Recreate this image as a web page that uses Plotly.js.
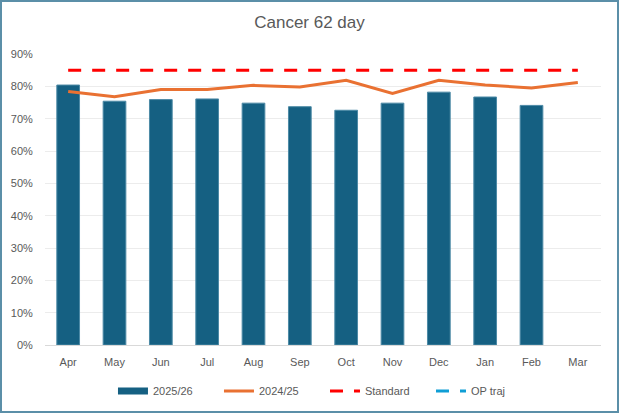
<!DOCTYPE html>
<html>
<head>
<meta charset="utf-8">
<script src="https://cdn.plot.ly/plotly-3.0.1.min.js"></script>
<style>
  html, body { margin: 0; padding: 0; background: #fff; }
  #chart { position: absolute; left: 0; top: 0; width: 619px; height: 413px; }
  #frame { position: absolute; left: 0; top: 0; width: 619px; height: 413px; box-sizing: border-box; border: 2px solid #5b8fa8; pointer-events: none; }
</style>
</head>
<body>
<div id="chart"></div>
<div id="frame"></div>
<script>
const months = ["Apr","May","Jun","Jul","Aug","Sep","Oct","Nov","Dec","Jan","Feb","Mar"];
const fy2526 = [0.804, 0.754, 0.759, 0.761, 0.748, 0.737, 0.726, 0.748, 0.782, 0.767, 0.741, null];
const fy2425 = [0.784, 0.768, 0.790, 0.790, 0.803, 0.798, 0.819, 0.778, 0.819, 0.804, 0.795, 0.812];
const standard = [0.85, 0.85, 0.85, 0.85, 0.85, 0.85, 0.85, 0.85, 0.85, 0.85, 0.85, 0.85];
const opTraj = [null, null, null, null, null, null, null, null, null, null, null, null];
const yTicks = [0, 0.1, 0.2, 0.3, 0.4, 0.5, 0.6, 0.7, 0.8, 0.9];

const font = "Liberation Sans, Arial, sans-serif";
const barColor = "#156082";
const traces = [
  { type: "bar", name: "2025/26", x: months, y: fy2526, showlegend: false,
    marker: { color: barColor, line: { color: "#4d8aa6", width: 1 } } },
  // legend entry for the bars, drawn as a wide flat block like the original
  { type: "scatter", mode: "lines", name: "2025/26", x: months, y: opTraj.slice(),
    line: { color: barColor, width: 7 } },
  { type: "scatter", mode: "lines", name: "2024/25", x: months, y: fy2425,
    line: { color: "#e97132", width: 3 } },
  { type: "scatter", mode: "lines", name: "Standard", x: months, y: standard,
    line: { color: "#ff0000", width: 3, dash: "13px,11px" } },
  { type: "scatter", mode: "lines", name: "OP traj", x: months, y: opTraj,
    line: { color: "#0f9ed5", width: 3, dash: "13px,11px" } }
];

const layout = {
  width: 619, height: 413,
  margin: { l: 45, r: 18, t: 54, b: 68 },
  paper_bgcolor: "rgba(0,0,0,0)", plot_bgcolor: "#fff",
  font: { family: font, color: "#595959", size: 11 },
  title: { text: "Cancer 62 day", font: { family: font, size: 17, color: "#595959" },
           x: 0.5, xanchor: "center", y: 0.947, yref: "container", yanchor: "middle" },
  bargap: 0.51,
  xaxis: { type: "category", showgrid: false, showline: true, linecolor: "#d9d9d9", linewidth: 1,
           ticks: "outside", ticklen: 7, tickcolor: "rgba(0,0,0,0)",
           tickfont: { size: 11, color: "#595959" }, fixedrange: true, automargin: false },
  yaxis: { range: [0, 0.9], tickvals: yTicks, tickformat: ".0%", showgrid: true,
           gridcolor: "#ececec", gridwidth: 1, zeroline: false, showline: false,
           ticks: "outside", ticklen: 9, tickcolor: "rgba(0,0,0,0)",
           tickfont: { size: 11, color: "#595959" }, fixedrange: true, automargin: false },
  showlegend: true,
  legend: { orientation: "h", x: 0.525, xanchor: "center", xref: "container",
            y: 0.053, yanchor: "middle", yref: "container",
            entrywidth: 61, entrywidthmode: "pixels",
            font: { size: 11, color: "#595959" }, traceorder: "normal" }
};

Plotly.newPlot("chart", traces, layout, { staticPlot: true, displayModeBar: false });
</script>
</body>
</html>
